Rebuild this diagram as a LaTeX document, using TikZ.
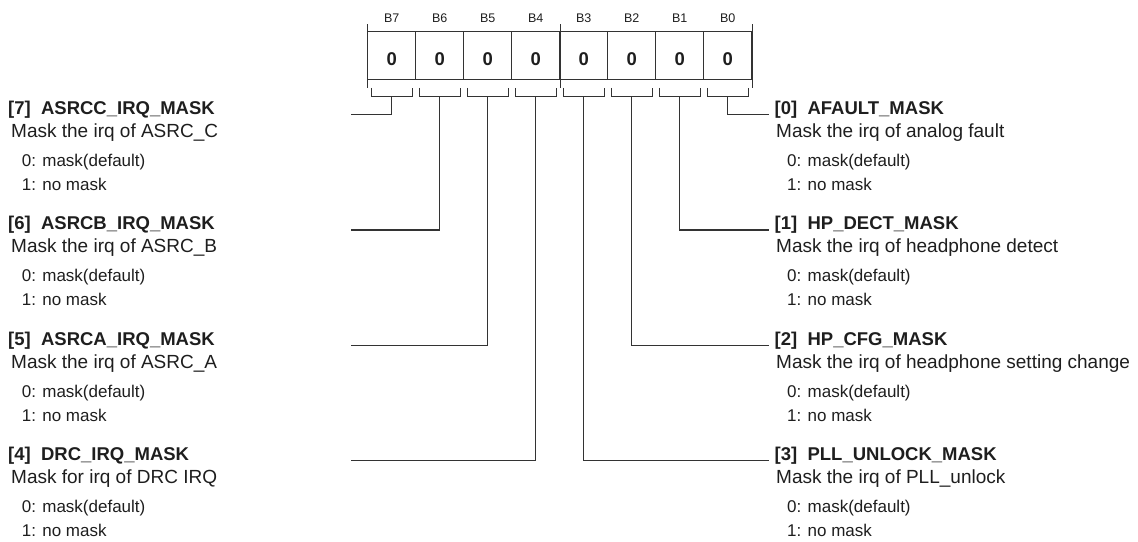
\documentclass[tikz,border=0pt]{standalone}
\usepackage{fontspec}
\setmainfont{Liberation Sans}
\definecolor{ln}{HTML}{333333}
\definecolor{tx}{HTML}{1E1E1E}
\begin{document}
\begin{tikzpicture}[x=1pt,y=-1pt,
  every node/.style={inner sep=0pt, text=tx},
  cell/.style={draw=ln, line width=1.3pt, minimum width=48pt, minimum height=47.6pt},
  digit/.style={font=\fontsize{18.5}{20}\selectfont\bfseries},
  bitlbl/.style={font=\fontsize{12.5}{13}\selectfont},
  head/.style={anchor=base west, font=\fontsize{18.5}{20}\selectfont\bfseries},
  desc/.style={anchor=base west, font=\fontsize{19}{21}\selectfont},
  sub/.style={anchor=base west, font=\fontsize{17}{19}\selectfont},
  conn/.style={draw=ln, line width=1.3pt},
  tick/.style={draw=ln, line width=1.1pt}]
\useasboundingbox (0,0) rectangle (1138,541);
% register cells
\foreach \i in {0,...,7}{
  \node[cell] (c\i) at ({391.7+48*(7-\i)},55.5) {};
  \node[digit] (v\i) at ({391.7+48*(7-\i)},59) {0};
  \node[bitlbl] (t\i) at ({391.7+48*(7-\i)},18.5) {B\i};
}
% ticks at outer edges and middle
\draw[tick] ([yshift=6.7pt]c7.north west) -- ([yshift=-8pt]c7.south west);
\draw[tick] ([yshift=6.7pt]c4.north east) -- ([yshift=-8pt]c4.south east);
\draw[tick] ([yshift=6.7pt]c0.north east) -- ([yshift=-8pt]c0.south east);
% brackets
\foreach \i in {0,...,7}{
  \draw[tick] ([xshift=4pt,yshift=-8pt]c\i.south west) -- ([xshift=4pt,yshift=-16.7pt]c\i.south west)
    -- ([xshift=-4pt,yshift=-16.7pt]c\i.south east) -- ([xshift=-4pt,yshift=-8pt]c\i.south east);
  \coordinate (b\i) at ([yshift=-16.7pt]c\i.south);
}
% left groups
\foreach \i/\k/\name/\d in {7/0/ASRCC\_IRQ\_MASK/Mask the irq of ASRC\_C,
                          6/1/ASRCB\_IRQ\_MASK/Mask the irq of ASRC\_B,
                          5/2/ASRCA\_IRQ\_MASK/Mask the irq of ASRC\_A,
                          4/3/DRC\_IRQ\_MASK/Mask for irq of DRC IRQ}{
  \pgfmathsetmacro{\yk}{114.5+115.4*\k}
  \node[head] (h\i) at (8,\yk) {[\i]\ \ \name};
  \node[desc] (d\i) at (11,\yk+23) {\d};
  \node[sub] (m\i) at (21.7,\yk+52) {0: mask(default)};
  \node[sub] (n\i) at (21.7,\yk+76) {1: no mask};
  \coordinate (e\i) at (351,\yk);
  \draw[conn] (b\i) |- (e\i);
}
% right groups
\foreach \i/\k/\name/\d in {0/0/AFAULT\_MASK/Mask the irq of analog fault,
                          1/1/HP\_DECT\_MASK/Mask the irq of headphone detect,
                          2/2/HP\_CFG\_MASK/Mask the irq of headphone setting change,
                          3/3/PLL\_UNLOCK\_MASK/Mask the irq of PLL\_unlock}{
  \pgfmathsetmacro{\yk}{114.5+115.4*\k}
  \node[head] (h\i) at (774.5,\yk) {[\i]\ \ \name};
  \node[desc] (d\i) at (776,\yk+23) {\d};
  \node[sub] (m\i) at (787,\yk+52) {0: mask(default)};
  \node[sub] (n\i) at (787,\yk+76) {1: no mask};
  \coordinate (e\i) at (768.5,\yk);
  \draw[conn] (b\i) |- (e\i);
}
\end{tikzpicture}
\end{document}
